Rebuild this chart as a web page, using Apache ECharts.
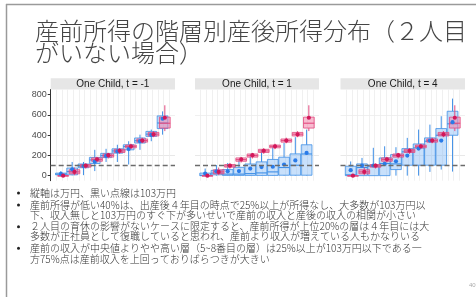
<!DOCTYPE html>
<html><head><meta charset="utf-8">
<script src="https://cdn.jsdelivr.net/npm/echarts@6/dist/echarts.min.js"></script>
<style>html,body{margin:0;padding:0;background:#fff}#c{width:476px;height:297px}</style>
</head><body><div id="c"></div>
<script>
// ---------- data ----------
const categories = [1, 2, 3, 4, 5, 6, 7, 8, 9, 10];
const panelTitles = ['One Child, t = -1', 'One Child, t = 1', 'One Child, t = 4'];
const yTicks = [0, 200, 400, 600, 800];
const refLine = 103;
// box stats: [low, q1, median, q3, high]
const preBox = [
  [0, 0, 0, 0, 0], [5, 18, 37, 58, 80], [70, 84, 96, 110, 120], [130, 142, 158, 175, 185],
  [170, 183, 198, 214, 225], [215, 229, 244, 260, 272], [262, 275, 290, 302, 315],
  [320, 331, 346, 362, 375], [380, 392, 410, 427, 440], [440, 470, 518, 578, 695]
];
const preMean = [0, 37, 98, 161, 202, 246, 290, 346, 407, 572];
const postBoxTm1 = [
  [0, 8, 15, 25, 45], [3, 8, 40, 75, 135], [5, 78, 95, 115, 135], [45, 120, 155, 180, 255],
  [135, 178, 198, 220, 265], [135, 222, 244, 265, 305], [110, 255, 287, 305, 340],
  [255, 322, 345, 372, 405], [340, 388, 410, 437, 455], [405, 465, 520, 590, 635]
];
const postMeanTm1 = [17, 62, 95, 138, 195, 240, 262, 340, 402, 562];
const postBoxT1 = [
  [0, 0, 3, 25, 70], [0, 8, 25, 52, 105], [0, 2, 15, 60, 125], [0, 2, 15, 82, 160],
  [0, 2, 20, 115, 215], [0, 2, 27, 136, 257], [0, 2, 37, 160, 290],
  [0, 4, 80, 182, 323], [0, 4, 103, 215, 380], [0, 4, 214, 305, 455]
];
const postMeanT1 = [20, 43, 43, 45, 70, 85, 88, 110, 150, 224];
const postBoxT4 = [
  [0, 0, 8, 93, 140], [0, 0, 80, 116, 175], [0, 0, 93, 103, 275], [0, 0, 120, 175, 290],
  [0, 60, 116, 208, 281], [0, 103, 235, 267, 373], [0, 103, 274, 313, 455],
  [37, 103, 340, 373, 504], [60, 103, 399, 465, 587], [40, 399, 512, 636, 761]
];
const postMeanT4 = [54, 100, 100, 116, 142, 198, 267, 346, 346, 528];

const titleLines = ['産前所得の階層別産後所得分布（２人目', 'がいない場合）'];
const bulletLines = [
  ['縦軸は万円、黒い点線は103万円'],
  ['産前所得が低い40%は、出産後４年目の時点で25%以上が所得なし、大多数が103万円以',
   '下、収入無しと103万円のすぐ下が多いせいで産前の収入と産後の収入の相関が小さい'],
  ['２人目の育休の影響がないケースに限定すると、産前所得が上位20%の層は４年目には大',
   '多数が正社員として復職していると思われ、産前より収入が増えている人もかなりいる'],
  ['産前の収入が中央値よりやや高い層（5~8番目の層）は25%以上が103万円以下である一',
   '方75%点は産前収入を上回っておりばらつきが大きい']
];
const pageNumber = '40';

// ---------- build ----------
const postBoxes = [postBoxTm1, postBoxT1, postBoxT4];
const postMeans = [postMeanTm1, postMeanT1, postMeanT4];
const toRows = (box, mean) => categories.map((c, i) => [c].concat(box[i]).concat([mean[i]]));

const BLUE = '#3f8fe6', BLUE_FILL = 'rgba(125,182,245,0.42)', BLUE_PT = '#2a7be8';
const RED = '#e24a7f', RED_FILL = 'rgba(242,120,162,0.5)', RED_PT = '#d2175a';

function makeBox(off, w, stroke, fill) {
  return function (params, api) {
    const x = api.value(0) + off;
    const lo = api.value(1), q1 = api.value(2), md = api.value(3), q3 = api.value(4), hi = api.value(5);
    const a = api.coord([x - w / 2, q3]);
    const b = api.coord([x + w / 2, q1]);
    const c = api.coord([x, hi]);
    const d = api.coord([x, lo]);
    const m1 = api.coord([x - w / 2, md]);
    const m2 = api.coord([x + w / 2, md]);
    return {
      type: 'group', children: [
        { type: 'line', shape: { x1: c[0], y1: c[1], x2: c[0], y2: a[1] }, style: { stroke, lineWidth: 1 } },
        { type: 'line', shape: { x1: d[0], y1: b[1], x2: d[0], y2: d[1] }, style: { stroke, lineWidth: 1 } },
        { type: 'rect', shape: { x: a[0], y: a[1], width: b[0] - a[0], height: Math.max(b[1] - a[1], 0.6) }, style: { fill, stroke, lineWidth: 0.8 } },
        { type: 'line', shape: { x1: m1[0], y1: m1[1], x2: m2[0], y2: m2[1] }, style: { stroke, lineWidth: 1.1 } }
      ]
    };
  };
}
function makePoint(off, color, r) {
  return function (params, api) {
    const p = api.coord([api.value(0) + off, api.value(6)]);
    return { type: 'circle', shape: { cx: p[0], cy: p[1], r }, style: { fill: color } };
  };
}

const panels = [
  { left: 50.7, width: 124.3 },
  { left: 195, width: 124 },
  { left: 340.5, width: 124.5 }
];
const gridTop = 89.6, gridH = 91.1;

const grid = panels.map(p => ({ left: p.left, top: gridTop, width: p.width, height: gridH }));
const xAxis = panels.map((p, i) => ({
  type: 'value', gridIndex: i, min: 0, max: 11, interval: 0.5,
  axisLine: { show: false }, axisTick: { show: false }, axisLabel: { show: false },
  splitLine: { show: true, showMinLine: false, showMaxLine: false, lineStyle: { color: '#ececec', width: 0.8 } }
}));
const yAxis = panels.map((p, i) => ({
  type: 'value', gridIndex: i, min: -50, max: 850, interval: 50,
  axisLine: { show: i === 0, lineStyle: { color: '#333', width: 1 } },
  axisTick: { show: i === 0, customValues: yTicks, length: 3, lineStyle: { color: '#333' } },
  axisLabel: {
    show: i === 0, customValues: yTicks, fontSize: 9, color: '#4d4d4d', margin: 4,
    fontFamily: 'Liberation Sans', formatter: v => (v % 200 === 0 ? String(v) : '')
  },
  splitLine: { show: true, lineStyle: { color: ['rgba(0,0,0,0)', '#e2e2e2', 'rgba(0,0,0,0)', '#ececec'], width: 0.8 } }
}));

const series = [];
panels.forEach((p, i) => {
  const post = toRows(postBoxes[i], postMeans[i]);
  const pre = toRows(preBox, preMean);
  const common = { type: 'custom', xAxisIndex: i, yAxisIndex: i, encode: { x: 0, y: 3 }, silent: true, clip: false };
  series.push(Object.assign({}, common, { z: 2, data: post, renderItem: makeBox(-0.1, 0.95, BLUE, BLUE_FILL) }));
  series.push(Object.assign({}, common, { z: 3, data: pre, renderItem: makeBox(0.1, 0.95, RED, RED_FILL) }));
  series.push(Object.assign({}, common, { z: 4, data: post, renderItem: makePoint(-0.1, BLUE_PT, 2.1) }));
  series.push(Object.assign({}, common, {
    z: 5, data: pre, renderItem: makePoint(0.1, RED_PT, 2.1),
    markLine: {
      silent: true, symbol: ['none', 'none'], label: { show: false },
      lineStyle: { color: '#6b6b6b', type: [5, 3], width: 1.3 },
      data: [{ yAxis: refLine }]
    }
  }));
});

const graphic = [];
// slide border
graphic.push({ type: 'line', shape: { x1: 6, y1: 4.5, x2: 476, y2: 4.5 }, style: { stroke: '#9a9a9a', lineWidth: 1.5 } });
graphic.push({ type: 'line', shape: { x1: 6.5, y1: 4, x2: 6.5, y2: 297 }, style: { stroke: '#9a9a9a', lineWidth: 1.5 } });
// title
titleLines.forEach((t, k) => {
  graphic.push({ type: 'text', x: 35, y: 30.5 + k * 22.5, style: { text: t, font: '300 24px "Noto Sans CJK JP"', fill: '#454545', verticalAlign: 'middle', align: 'left' } });
});
// strips
panels.forEach((p, i) => {
  graphic.push({ type: 'rect', shape: { x: p.left, y: 78.3, width: p.width, height: 11.3 }, style: { fill: '#e6e6e6' } });
  graphic.push({ type: 'text', x: p.left + p.width / 2, y: 84.2, style: { text: panelTitles[i], font: '10px "Liberation Sans"', fill: '#1a1a1a', align: 'center', verticalAlign: 'middle' } });
});
// bullets
const lineYs = [[193], [205, 215.3], [226.7, 236.7], [248.3, 259]];
bulletLines.forEach((lines, b) => {
  graphic.push({ type: 'circle', shape: { cx: 18.5, cy: lineYs[b][0], r: 1.5 }, style: { fill: '#222' } });
  lines.forEach((t, k) => {
    graphic.push({ type: 'text', x: 30, y: lineYs[b][k], style: { text: t, font: '300 10px "Noto Sans CJK JP"', fill: '#333333', verticalAlign: 'middle', align: 'left' } });
  });
});
graphic.push({ type: 'text', x: 469, y: 285, style: { text: pageNumber, font: '6px "Liberation Sans"', fill: '#aaaaaa', verticalAlign: 'middle', align: 'left' } });

const chart = echarts.init(document.getElementById('c'), null, { renderer: 'canvas' });
chart.setOption({ animation: false, backgroundColor: '#fff', grid, xAxis, yAxis, series, graphic });
</script>
</body></html>
